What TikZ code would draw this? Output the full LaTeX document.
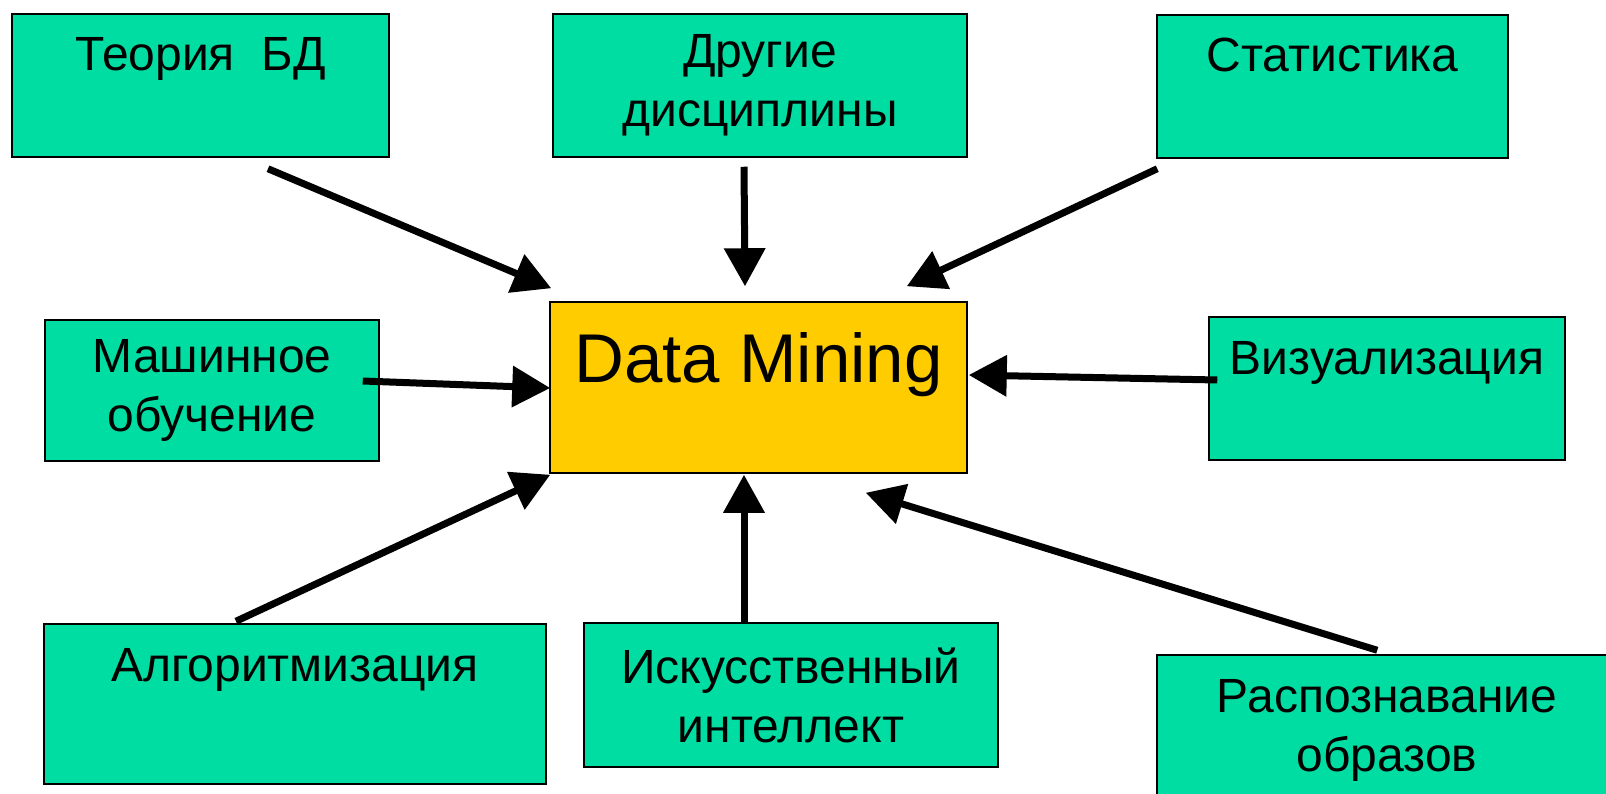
\documentclass[tikz,border=0pt]{standalone}
\usepackage{fontspec}
\setmainfont{Liberation Sans}
\usetikzlibrary{arrows.meta}
\definecolor{dmgreen}{RGB}{0,221,162}
\definecolor{dmyellow}{RGB}{255,204,0}
\tikzstyle{field} = [
    rectangle,
    draw=black,
    line width=1.5pt,
    fill=dmgreen,
    align=center,
    inner sep=0pt,
    font=\fontsize{48}{59}\selectfont
]
\tikzstyle{topline} = [
    text height=57pt
]
\tikzstyle{core} = [
    rectangle,
    draw=black,
    line width=1.5pt,
    fill=dmyellow,
    inner sep=0pt,
    text height=80pt,
    font=\fontsize{69}{80}\selectfont
]
\tikzstyle{link} = [
    line width=7pt,
    -{Triangle[length=38pt,width=40pt]}
]

\begin{document}
\begin{tikzpicture}[x=1pt, y=-1pt]
        \useasboundingbox (0,0) rectangle (1606,794);
        \clip (0,0) rectangle (1606,794);

        \node (dm) [core, minimum width=417pt, text depth=91pt] at (758.5,387.5) {Data Mining};

        \node (teoria) [field, topline, minimum width=377pt, text depth=86pt] at (200.5,85.5) {Теория~ БД};
        \node (drugie) [field, minimum width=414pt, minimum height=143pt] at (760,85.5) {Другие\\дисциплины};
        \node (stat) [field, topline, minimum width=351pt, text depth=86pt] at (1332.5,86.5) {Статистика};
        \node (mash) [field, minimum width=334pt, minimum height=141pt] at (212,390.5) {Машинное\\обучение};
        \node (viz) [field, topline, minimum width=356pt, text depth=86pt] at (1387,388.5) {Визуализация};
        \node (algo) [field, topline, minimum width=502pt, text depth=103pt] at (295,704) {Алгоритмизация};
        \node (ii) [field, minimum width=414pt, minimum height=144pt] at (791,695) {Искусственный\\интеллект};
        \node (rasp) [field, minimum width=460pt, minimum height=150pt] at (1387,730) {Распознавание\\образов};

        \draw[link] ([shift={(67.5,11)}]teoria.south) -- ([shift={(2,-13)}]dm.north west);
        \draw[link] ([shift={(-16,9)}]drugie.south) -- ([shift={(-13.5,-15)}]dm.north);
        \draw[link] ([shift={(1,10)}]stat.south west) -- ([shift={(-61,-15)}]dm.north east);
        \draw[link] ([shift={(-17,-9.5)}]mash.east) -- ([shift={(1,0.5)}]dm.west);
        \draw[link] ([shift={(9,-8.5)}]viz.west) -- ([shift={(1,-12.5)}]dm.east);
        \draw[link] ([shift={(-59,-2)}]algo.north) -- ([shift={(1,1)}]dm.south west);
        \draw[link] ([shift={(-47,0)}]ii.north) -- ([shift={(-14.5,1)}]dm.south);
        \draw[link] ([shift={(221,-4)}]rasp.north west) -- ([shift={(-102,19)}]dm.south east);
    \end{tikzpicture}
\end{document}
